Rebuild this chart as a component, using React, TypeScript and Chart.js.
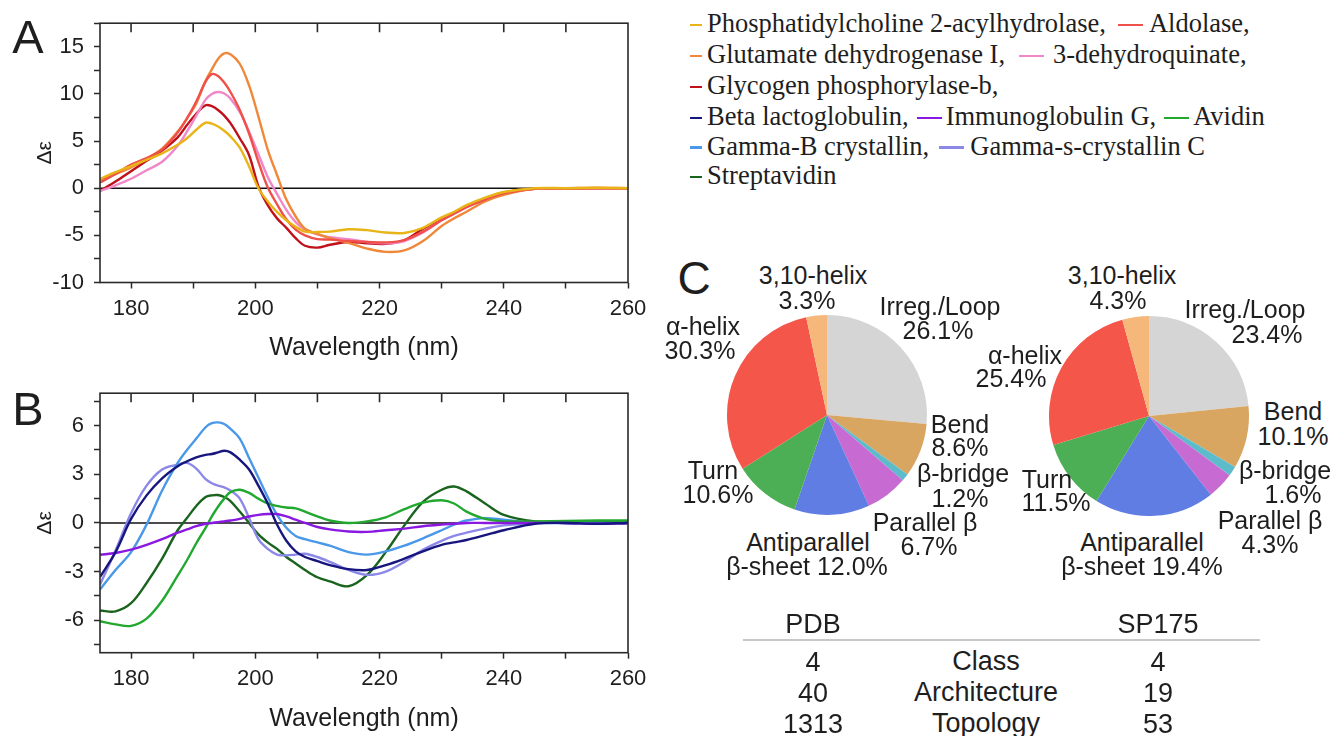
import React, { useEffect, useRef } from "react";
import { Chart, registerables } from "chart.js";
Chart.register(...registerables);

// ---------- data ----------
const wavelengths = [175, 177.5, 180, 182.5, 185, 187.5, 189, 190.5, 192, 193, 194, 195, 196, 197.5, 199, 200.5, 202, 203.5, 205, 206.5, 208, 210, 212, 215, 218, 221, 224, 227, 230, 232, 234, 237, 240, 245, 250, 255, 260];

// Panel A
const pcHydrolase = [1.0, 1.7, 2.35, 3.0, 3.7, 4.6, 5.3, 6.2, 6.95, 6.85, 6.55, 6.1, 5.5, 4.3, 2.3, 0.0, -1.4, -2.5, -3.4, -4.1, -4.6, -4.65, -4.6, -4.35, -4.45, -4.7, -4.75, -4.2, -3.1, -2.5, -1.8, -1.0, -0.4, 0, 0, 0.05, 0];
const aldolase = [0.6, 1.5, 2.5, 3.2, 4.1, 5.9, 7.4, 9.2, 11.3, 12.1, 11.9, 11.2, 10.2, 8.3, 5.8, 2.8, 0.1, -1.7, -3.3, -4.4, -5.0, -5.4, -5.45, -5.6, -5.7, -5.75, -5.5, -4.6, -3.4, -2.7, -2.0, -1.2, -0.55, -0.05, 0, 0, 0];
const glutamateDH = [0.87, 1.5, 2.2, 3.1, 4.2, 6.0, 7.4, 9.0, 11.4, 12.6, 13.7, 14.3, 14.2, 13.2, 10.9, 7.6, 4.1, 1.4, -1.2, -3.0, -4.3, -4.85, -5.3, -5.8, -6.4, -6.75, -6.6, -5.6, -4.0, -3.2, -2.5, -1.4, -0.7, -0.05, 0, 0.05, 0];
const dehydroquinate = [-0.3, 0.3, 1.0, 1.9, 2.8, 4.5, 6.0, 7.7, 9.4, 10.0, 10.2, 10.05, 9.5, 8.1, 6.0, 3.6, 1.2, -0.6, -2.3, -3.6, -4.4, -4.9, -5.2, -5.4, -5.7, -5.85, -5.6, -4.7, -3.4, -2.7, -2.0, -1.2, -0.55, -0.05, 0, 0, 0];
const glycogenPhos = [-0.3, 0.7, 1.8, 2.9, 4.0, 5.4, 6.7, 7.9, 8.8, 8.7, 8.3, 7.7, 6.9, 5.3, 3.5, 0.2, -1.8, -3.2, -4.2, -5.3, -6.1, -6.3, -6.0, -5.7, -5.85, -5.9, -5.5, -4.3, -3.2, -2.6, -1.9, -1.1, -0.45, -0.05, -0.05, 0, 0];

// Panel B
const betaLacto = [-3.33, -1.8, 0.25, 1.7, 2.75, 3.5, 3.8, 4.05, 4.2, 4.25, 4.35, 4.45, 4.35, 3.9, 3.3, 2.3, 1.2, -0.1, -1.1, -1.75, -2.1, -2.35, -2.6, -2.85, -2.9, -2.6, -2.2, -1.75, -1.35, -1.2, -1.05, -0.75, -0.45, -0.05, 0, -0.05, 0];
const immunoglobulinG = [-1.96, -1.85, -1.65, -1.35, -1.0, -0.6, -0.4, -0.2, -0.05, 0.0, 0.05, 0.1, 0.15, 0.25, 0.4, 0.5, 0.55, 0.55, 0.4, 0.2, 0.0, -0.25, -0.4, -0.53, -0.55, -0.45, -0.35, -0.2, -0.1, -0.05, 0, 0, 0, 0, 0, -0.05, 0];
const avidin = [-6.06, -6.25, -6.35, -5.9, -4.8, -3.25, -2.3, -1.25, -0.3, 0.4, 1.0, 1.5, 1.9, 2.05, 1.85, 1.5, 1.2, 1.05, 0.95, 0.9, 0.7, 0.4, 0.15, 0.0, 0.1, 0.35, 0.85, 1.25, 1.4, 1.2, 0.7, 0.25, 0.1, 0.1, 0.12, 0.15, 0.15];
const gammaBCryst = [-4.1, -2.9, -1.8, -0.1, 2.0, 3.7, 4.5, 5.2, 5.9, 6.15, 6.2, 6.1, 5.8, 5.2, 4.0, 2.8, 1.6, 0.5, -0.3, -0.8, -1.0, -1.2, -1.4, -1.8, -1.95, -1.75, -1.4, -0.95, -0.45, -0.1, 0.15, 0.3, 0.2, 0.02, 0, 0, 0];
const gammaSCryst = [-3.8, -1.7, 0.6, 2.3, 3.3, 3.6, 3.7, 3.35, 2.7, 2.45, 2.3, 2.2, 2.0, 1.5, 0.3, -1.0, -1.6, -1.95, -2.0, -1.95, -1.9, -2.1, -2.4, -2.9, -3.2, -3.0, -2.4, -1.65, -1.1, -0.8, -0.6, -0.35, -0.15, 0, 0, 0, 0];
const streptavidin = [-5.4, -5.45, -4.95, -3.7, -2.2, -0.45, 0.3, 1.05, 1.6, 1.7, 1.72, 1.6, 1.35, 0.7, 0.0, -0.7, -1.2, -1.6, -2.1, -2.5, -2.9, -3.35, -3.6, -3.9, -3.2, -1.8, -0.15, 1.3, 2.05, 2.25, 1.95, 1.2, 0.5, 0.1, 0.05, 0.05, 0.05];

const xTickValuesLabelled = [180, 200, 220, 240, 260];
const yTicksA = [-10, -5, 0, 5, 10, 15];
const yTicksB = [-6, -3, 0, 3, 6];

// Panel C
const pieLabels = ["Irreg./Loop", "Bend", "β-bridge", "Parallel β", "Antiparallel β-sheet", "Turn", "α-helix", "3,10-helix"];
const pdbPercent = [26.1, 8.6, 1.2, 6.7, 12.0, 10.6, 30.3, 3.3];
const sp175Percent = [23.4, 10.1, 1.6, 4.3, 19.4, 11.5, 25.4, 4.3];
const pieColors = ["#D5D5D5", "#D9A662", "#5DBCCB", "#C76BD2", "#5F7DE3", "#4DAF55", "#F5564A", "#F6B77A"];

const tableLevels = ["Class", "Architecture", "Topology"];
const pdbCounts = [4, 40, 1313];
const sp175Counts = [4, 19, 53];

// ---------- styles ----------
const SANS = "'Liberation Sans', Arial, sans-serif";
const SERIF = "'Liberation Serif', 'Times New Roman', serif";
const TEXT = "#1e1e1e";

const seriesA = [
  { label: "Phosphatidylcholine 2-acylhydrolase", data: pcHydrolase, color: "#E8B418" },
  { label: "Aldolase", data: aldolase, color: "#F0504A" },
  { label: "Glutamate dehydrogenase I", data: glutamateDH, color: "#F0883A" },
  { label: "3-dehydroquinate", data: dehydroquinate, color: "#F088C8" },
  { label: "Glycogen phosphorylase-b", data: glycogenPhos, color: "#C0101A" },
];
const seriesB = [
  { label: "Beta lactoglobulin", data: betaLacto, color: "#16167E" },
  { label: "Immunoglobulin G", data: immunoglobulinG, color: "#8A18E0" },
  { label: "Avidin", data: avidin, color: "#22A82E" },
  { label: "Gamma-B crystallin", data: gammaBCryst, color: "#4A98E8" },
  { label: "Gamma-s-crystallin C", data: gammaSCryst, color: "#8C88E8" },
  { label: "Streptavidin", data: streptavidin, color: "#1A641E" },
];

const framePlugin = {
  id: "frame",
  beforeDatasetsDraw(chart: any) {
    const { ctx, chartArea: a, scales } = chart;
    const y0 = scales.y.getPixelForValue(0);
    ctx.save();
    ctx.strokeStyle = "#111";
    ctx.lineWidth = 1.6;
    ctx.beginPath();
    ctx.moveTo(a.left, y0);
    ctx.lineTo(a.right, y0);
    ctx.stroke();
    ctx.restore();
  },
  afterDraw(chart: any) {
    const { ctx, chartArea: a, scales } = chart;
    ctx.save();
    ctx.strokeStyle = "#2a2a2a";
    ctx.lineWidth = 1.6;
    ctx.strokeRect(a.left, a.top, a.right - a.left, a.bottom - a.top);
    ctx.beginPath();
    scales.x.ticks.forEach((t: any) => {
      if (t.value < scales.x.max) {
        const px = scales.x.getPixelForValue(t.value);
        ctx.moveTo(px, a.top);
        ctx.lineTo(px, a.top + 9);
      }
    });
    ctx.stroke();
    ctx.restore();
  },
};

type LineProps = {
  series: { label: string; data: number[]; color: string }[];
  yMin: number; yMax: number; yStep: number; yLabelled: number[];
  width: number; height: number; padTop: number; xAxisHeight: number; titlePadBottom: number;
};

function CdChart(p: LineProps) {
  const ref = useRef<HTMLCanvasElement>(null);
  useEffect(() => {
    const chart = new Chart(ref.current!, {
      type: "line",
      data: {
        datasets: p.series.map((s) => ({
          label: s.label,
          data: s.data.map((v, i) => ({ x: wavelengths[i], y: v })),
          borderColor: s.color,
          backgroundColor: s.color,
          borderWidth: 2.4,
          pointRadius: 0,
          tension: 0.35,
          fill: false,
        })),
      },
      options: {
        animation: false,
        responsive: false,
        layout: { padding: { top: p.padTop, right: 32, left: 0, bottom: 0 } },
        plugins: { legend: { display: false }, tooltip: { enabled: false } },
        scales: {
          x: {
            type: "linear",
            min: 175,
            max: 260,
            ticks: {
              stepSize: 10,
              includeBounds: false,
              autoSkip: false,
              maxRotation: 0,
              padding: 7,
              color: TEXT,
              font: { family: SANS, size: 22 },
              callback: (v: any) => (xTickValuesLabelled.includes(Number(v)) ? String(v) : ""),
            },
            grid: { drawOnChartArea: false, drawTicks: true, tickLength: 6, tickColor: "#2a2a2a", tickWidth: 1.5 },
            border: { display: false },
            title: { display: true, text: "Wavelength (nm)", color: TEXT, font: { family: SANS, size: 25 }, padding: { top: 0, bottom: p.titlePadBottom } },
            afterFit: (s: any) => { s.height = p.xAxisHeight; },
          },
          y: {
            type: "linear",
            min: p.yMin,
            max: p.yMax,
            ticks: {
              stepSize: p.yStep,
              includeBounds: false,
              autoSkip: false,
              padding: 10,
              color: TEXT,
              font: { family: SANS, size: 22 },
              callback: (v: any) => (p.yLabelled.includes(Number(v)) ? String(v) : ""),
            },
            grid: { drawOnChartArea: false, drawTicks: true, tickLength: 6, tickColor: "#2a2a2a", tickWidth: 1.5 },
            border: { display: false },
            title: { display: true, text: "Δε", color: TEXT, font: { family: SANS, size: 21 }, padding: { top: 33, bottom: 0 } },
            afterFit: (s: any) => { s.width = 100; },
          },
        },
      },
      plugins: [framePlugin],
    } as any);
    return () => chart.destroy();
  }, []);
  return <canvas ref={ref} width={p.width} height={p.height} style={{ width: p.width, height: p.height, display: "block" }} />;
}

function PieChart({ values }: { values: number[] }) {
  const ref = useRef<HTMLCanvasElement>(null);
  useEffect(() => {
    const chart = new Chart(ref.current!, {
      type: "pie",
      data: {
        labels: pieLabels,
        datasets: [{ data: values, backgroundColor: pieColors, borderWidth: 0 }],
      },
      options: {
        animation: false,
        responsive: false,
        layout: { padding: 5 },
        plugins: { legend: { display: false }, tooltip: { enabled: false } },
      },
    } as any);
    return () => chart.destroy();
  }, []);
  return <canvas ref={ref} width={210} height={210} style={{ width: 210, height: 210, display: "block" }} />;
}

function Txt({ x, y, children, size = 25, family = SANS, align = "center" }: any) {
  const tx = align === "center" ? "-50%" : align === "right" ? "-100%" : "0";
  return (
    <div style={{ position: "absolute", left: x, top: y, transform: `translate(${tx},-50%)`, fontFamily: family, fontSize: size, lineHeight: 1, color: TEXT, whiteSpace: "nowrap" }}>
      {children}
    </div>
  );
}

const Dash = ({ color, w = 25, ml = 0, mr = 5 }: any) => (
  <span style={{ display: "inline-block", width: w, height: 2.5, background: color, verticalAlign: "middle", marginLeft: ml, marginRight: mr, position: "relative", top: -1 }} />
);

function LegendRow({ y, children }: any) {
  return (
    <div style={{ position: "absolute", left: 690, top: y, transform: "translateY(-50%)", fontFamily: SERIF, fontSize: 26.5, lineHeight: "30px", color: TEXT, whiteSpace: "nowrap" }}>
      {children}
    </div>
  );
}

const fmt = (v: number) => v.toFixed(1) + "%";

export default function App() {
  const [ir, be, bb, pa, an, tu, ah, h3] = pdbPercent;
  const [ir2, be2, bb2, pa2, an2, tu2, ah2, h32] = sp175Percent;
  const c = (l: string) => seriesA.concat(seriesB).find((s) => s.label === l)!.color;
  return (
    <div style={{ position: "absolute", left: 0, top: 0, width: 1341, height: 736, background: "#fff", overflow: "hidden" }}>
      <div style={{ position: "absolute", left: 0, top: 0 }}>
        <CdChart series={seriesA} yMin={-10} yMax={17.5} yStep={2.5} yLabelled={yTicksA} width={660} height={370} padTop={19} xAxisHeight={87.5} titlePadBottom={7} />
      </div>
      <div style={{ position: "absolute", left: 0, top: 370 }}>
        <CdChart series={seriesB} yMin={-8} yMax={8} yStep={1.5} yLabelled={yTicksB} width={660} height={366} padTop={21.3} xAxisHeight={83.3} titlePadBottom={2} />
      </div>
      <Txt x={28} y={36} size={47}>A</Txt>
      <Txt x={28} y={408} size={47}>B</Txt>
      <Txt x={694} y={278} size={46}>C</Txt>

      <LegendRow y={23}><Dash color={c("Phosphatidylcholine 2-acylhydrolase")} w={12} />Phosphatidylcholine 2-acylhydrolase,<Dash color={c("Aldolase")} ml={12} mr={6} />Aldolase,</LegendRow>
      <LegendRow y={54}><Dash color={c("Glutamate dehydrogenase I")} w={12} />Glutamate dehydrogenase I,<Dash color={c("3-dehydroquinate")} ml={14} mr={9} />3-dehydroquinate,</LegendRow>
      <LegendRow y={85}><Dash color={c("Glycogen phosphorylase-b")} w={12} />Glycogen phosphorylase-b,</LegendRow>
      <LegendRow y={116}><Dash color={c("Beta lactoglobulin")} w={12} />Beta lactoglobulin,<Dash color={c("Immunoglobulin G")} ml={8} mr={4} />Immunoglobulin G,<Dash color={c("Avidin")} ml={8} mr={4} />Avidin</LegendRow>
      <LegendRow y={145.5}><Dash color={c("Gamma-B crystallin")} w={12} />Gamma-B crystallin,<Dash color={c("Gamma-s-crystallin C")} ml={10} mr={6} />Gamma-s-crystallin C</LegendRow>
      <LegendRow y={175}><Dash color={c("Streptavidin")} w={12} />Streptavidin</LegendRow>

      <div style={{ position: "absolute", left: 722, top: 310 }}><PieChart values={pdbPercent} /></div>
      <div style={{ position: "absolute", left: 1044, top: 311 }}><PieChart values={sp175Percent} /></div>

      {/* PDB pie labels */}
      <Txt x={813} y={275}>{pieLabels[7]}</Txt><Txt x={807} y={300}>{fmt(h3)}</Txt>
      <Txt x={940} y={306}>{pieLabels[0]}</Txt><Txt x={938} y={330}>{fmt(ir)}</Txt>
      <Txt x={703} y={326}>{pieLabels[6]}</Txt><Txt x={700} y={350}>{fmt(ah)}</Txt>
      <Txt x={960} y={424}>{pieLabels[1]}</Txt><Txt x={960} y={447}>{fmt(be)}</Txt>
      <Txt x={963} y={473}>{pieLabels[2]}</Txt><Txt x={960} y={498}>{fmt(bb)}</Txt>
      <Txt x={925} y={522}>{pieLabels[3]}</Txt><Txt x={929} y={546}>{fmt(pa)}</Txt>
      <Txt x={713} y={470}>{pieLabels[5]}</Txt><Txt x={718} y={494}>{fmt(tu)}</Txt>
      <Txt x={808} y={542}>Antiparallel</Txt><Txt x={807} y={566}>β-sheet {fmt(an)}</Txt>

      {/* SP175 pie labels */}
      <Txt x={1122} y={275}>{pieLabels[7]}</Txt><Txt x={1118} y={300}>{fmt(h32)}</Txt>
      <Txt x={1245} y={309}>{pieLabels[0]}</Txt><Txt x={1267} y={334}>{fmt(ir2)}</Txt>
      <Txt x={1025} y={355}>{pieLabels[6]}</Txt><Txt x={1011} y={378}>{fmt(ah2)}</Txt>
      <Txt x={1293} y={411}>{pieLabels[1]}</Txt><Txt x={1293} y={436}>{fmt(be2)}</Txt>
      <Txt x={1285} y={470}>{pieLabels[2]}</Txt><Txt x={1293} y={494}>{fmt(bb2)}</Txt>
      <Txt x={1270} y={520}>{pieLabels[3]}</Txt><Txt x={1270} y={544}>{fmt(pa2)}</Txt>
      <Txt x={1047} y={479}>{pieLabels[5]}</Txt><Txt x={1056} y={502}>{fmt(tu2)}</Txt>
      <Txt x={1142} y={542}>Antiparallel</Txt><Txt x={1142} y={566}>β-sheet {fmt(an2)}</Txt>

      {/* table */}
      <Txt x={813} y={624} size={27}>PDB</Txt>
      <Txt x={1158} y={624} size={27}>SP175</Txt>
      <div style={{ position: "absolute", left: 743, top: 639, width: 517, height: 1.5, background: "#c8c8c8" }} />
      {tableLevels.map((lv, i) => (
        <React.Fragment key={lv}>
          <Txt x={813} y={662 + i * 31} size={27}>{pdbCounts[i]}</Txt>
          <Txt x={986} y={661 + i * 31} size={27}>{lv}</Txt>
          <Txt x={1158} y={662 + i * 31} size={27}>{sp175Counts[i]}</Txt>
        </React.Fragment>
      ))}
    </div>
  );
}
